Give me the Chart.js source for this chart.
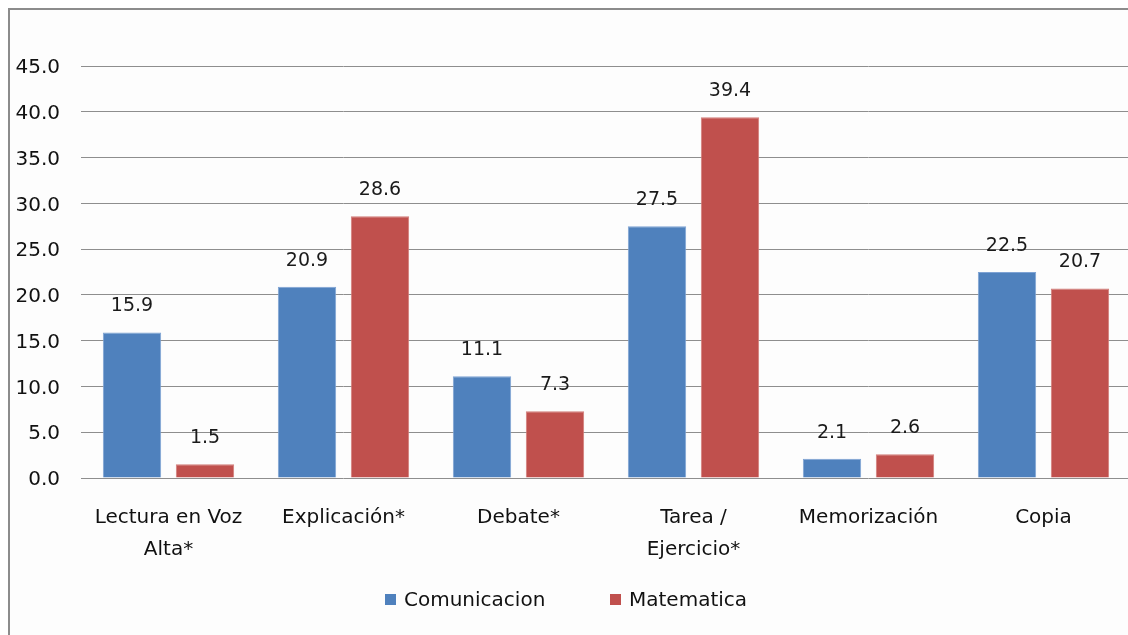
<!DOCTYPE html>
<html>
<head>
<meta charset="utf-8">
<script src="https://cdn.jsdelivr.net/npm/chart.js@4.4.1/dist/chart.umd.min.js"></script>
<style>
  html, body { margin: 0; padding: 0; background: #ffffff; overflow: hidden; width: 1128px; height: 635px; }
  #page { position: absolute; left: 0; top: 0; width: 1128px; height: 635px; overflow: hidden; }
  #frame {
    position: absolute; left: 8px; top: 8px; right: 0; bottom: 0;
    border-left: 2px solid #8c8c8c; border-top: 2px solid #8c8c8c;
    background: #fdfdfd;
  }
  #wrap { position: absolute; left: 0; top: 0; width: 1131px; height: 635px; }
  #legend {
    position: absolute; top: 586px; left: 0; width: 1128px;
    font-family: "DejaVu Sans", sans-serif; font-size: 20px; color: #111;
  }
  .item { position: absolute; top: 0; line-height: 26px; white-space: nowrap; }
  .sw { display: inline-block; width: 11px; height: 11px; margin-right: 8px; vertical-align: 1px; }
</style>
</head>
<body>
<div id="page">
  <div id="frame"></div>
  <div id="wrap"><canvas id="c" width="1131" height="635"></canvas></div>
  <div id="legend"></div>
</div>
<script>
// Categories (x axis), wrapped labels as line arrays
const categories = [
  ["Lectura en Voz", "Alta*"],
  "Explicación*",
  "Debate*",
  ["Tarea /", "Ejercicio*"],
  "Memorización",
  "Copia"
];
const seriesNames = ["Comunicacion", "Matematica"];
const comunicacion = [15.9, 20.9, 11.1, 27.5, 2.1, 22.5];
const matematica   = [1.5, 28.6, 7.3, 39.4, 2.6, 20.7];
const yTicks = [0, 5, 10, 15, 20, 25, 30, 35, 40, 45];

const colors = ["#4f81bd", "#c0504d"];
const edges  = ["#7ea3d4", "#d27c79"];
const FONT = "'DejaVu Sans', sans-serif";

// Value labels drawn above each bar
const valueLabels = {
  id: "valueLabels",
  afterDatasetsDraw(chart) {
    const ctx = chart.ctx;
    ctx.save();
    ctx.font = "19px " + FONT;
    ctx.fillStyle = "#1a1a1a";
    ctx.textAlign = "center";
    ctx.textBaseline = "middle";
    chart.data.datasets.forEach((ds, di) => {
      chart.getDatasetMeta(di).data.forEach((bar, i) => {
        ctx.fillText(ds.data[i].toFixed(1), bar.x, bar.y - 26);
      });
    });
    ctx.restore();
  }
};

new Chart(document.getElementById("c"), {
  type: "bar",
  data: {
    labels: categories,
    datasets: [
      { label: seriesNames[0], data: comunicacion, backgroundColor: colors[0], borderColor: edges[0], borderWidth: 1 },
      { label: seriesNames[1], data: matematica, backgroundColor: colors[1], borderColor: edges[1], borderWidth: 1 }
    ]
  },
  options: {
    responsive: false,
    animation: false,
    layout: { padding: { top: 66, left: 0, right: 0, bottom: 0 } },
    datasets: { bar: { categoryPercentage: 0.834, barPercentage: 0.8 } },
    plugins: { legend: { display: false }, tooltip: { enabled: false }, title: { display: false } },
    scales: {
      x: {
        grid: { display: false, drawTicks: false },
        border: { display: false },
        ticks: { color: "#111", font: { family: FONT, size: 20, lineHeight: 1.6 }, padding: 24, maxRotation: 0, autoSkip: false },
        afterFit(s) { s.height = 157; }
      },
      y: {
        min: 0, max: 45,
        afterBuildTicks(s) { s.ticks = yTicks.map(v => ({ value: v })); },
        grid: { color: "#8e8e8e", lineWidth: 1, drawTicks: false },
        border: { display: false },
        ticks: { color: "#111", font: { family: FONT, size: 20 }, padding: 21, labelOffset: 2, callback: v => Number(v).toFixed(1) },
        afterFit(s) { s.width = 81; }
      }
    }
  },
  plugins: [valueLabels]
});

// Legend
const legend = document.getElementById("legend");
const legendX = [385, 610];
seriesNames.forEach((n, i) => {
  const d = document.createElement("div");
  d.className = "item";
  d.style.left = legendX[i] + "px";
  d.innerHTML = '<span class="sw" style="background:' + colors[i] + '"></span>' + n;
  legend.appendChild(d);
});
</script>
</body>
</html>
